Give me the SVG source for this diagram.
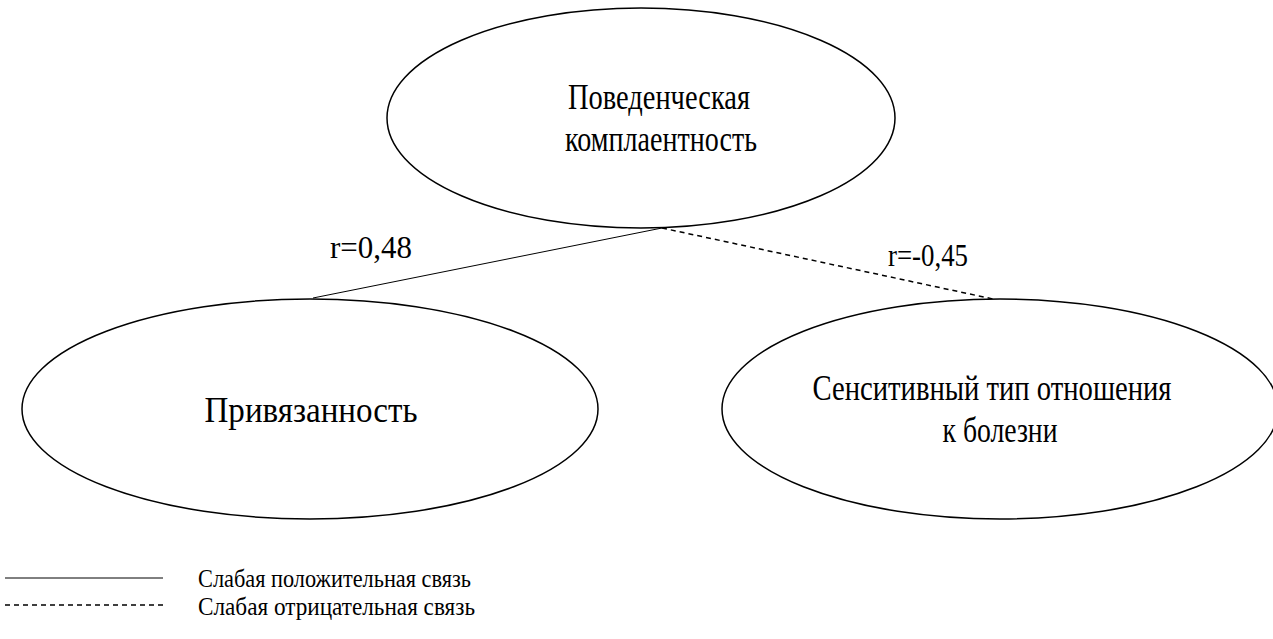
<svg xmlns="http://www.w3.org/2000/svg" width="1273" height="639" viewBox="0 0 1273 639">
<style>
.node{fill:#fff;stroke:#000;stroke-width:1.5}
.t{font-family:"Liberation Serif","Times New Roman",serif;font-size:36px;fill:#000;text-anchor:middle}
.r{font-size:32px}
.lg{font-family:"Liberation Serif","Times New Roman",serif;font-size:25px;fill:#000}
.c{stroke:#000;stroke-width:1;fill:none}
.d{stroke-dasharray:5,4;stroke-width:1.5}
</style>
<rect width="1273" height="639" fill="#fff"/>
<g id="connectors">
<line class="c" x1="662" y1="228" x2="313" y2="298"/>
<line class="c d" x1="662" y1="228" x2="993" y2="299"/>
<text class="t r" x="371" y="258" textLength="82" lengthAdjust="spacingAndGlyphs">r=0,48</text>
<text class="t r" x="928" y="266" textLength="80" lengthAdjust="spacingAndGlyphs">r=-0,45</text>
</g>
<g id="node-top">
<ellipse class="node" cx="641" cy="118" rx="254" ry="110"/>
<text class="t" x="659" y="109" textLength="182" lengthAdjust="spacingAndGlyphs">Поведенческая</text>
<text class="t" x="661" y="151" textLength="192" lengthAdjust="spacingAndGlyphs">комплаентность</text>
</g>
<g id="node-left">
<ellipse class="node" cx="310" cy="409" rx="288" ry="110"/>
<text class="t" x="311" y="422" textLength="213" lengthAdjust="spacingAndGlyphs">Привязанность</text>
</g>
<g id="node-right">
<ellipse class="node" cx="1000" cy="409" rx="278" ry="110"/>
<text class="t" x="992" y="400" textLength="359" lengthAdjust="spacingAndGlyphs">Сенситивный тип отношения</text>
<text class="t" x="1000" y="442" textLength="115" lengthAdjust="spacingAndGlyphs">к болезни</text>
</g>
<g id="legend">
<line class="c" x1="5" y1="578" x2="163" y2="578"/>
<line class="c d" x1="5" y1="605" x2="163" y2="605" stroke-dasharray="4,3"/>
<text class="lg" x="198" y="587" textLength="273" lengthAdjust="spacingAndGlyphs">Слабая положительная связь</text>
<text class="lg" x="198" y="615" textLength="277" lengthAdjust="spacingAndGlyphs">Слабая отрицательная связь</text>
</g>
</svg>
